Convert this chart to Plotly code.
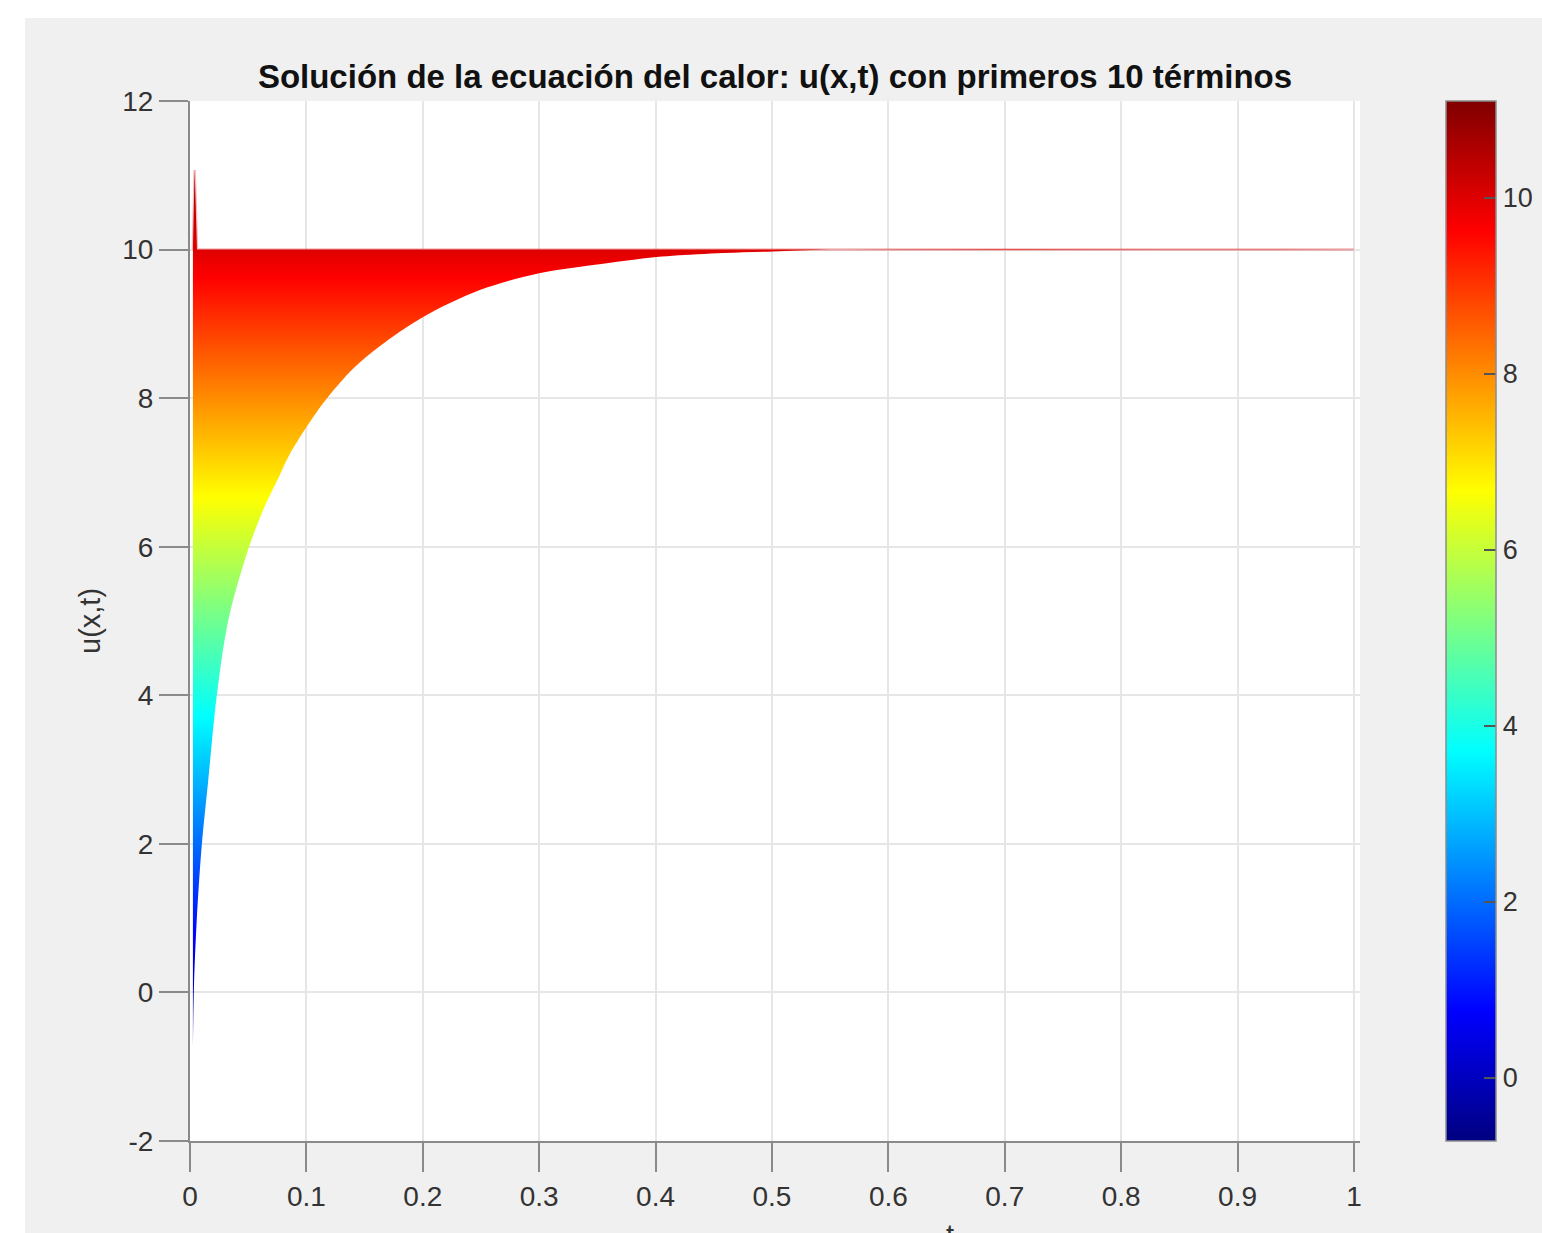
import plotly.graph_objects as go

# Lower envelope of u(x,t) over x (minimum at each time t)
t_low = [0.0025, 0.0034, 0.0058, 0.0100, 0.0157, 0.0229, 0.0329, 0.0487, 0.0630,
         0.0773, 0.0859, 0.1143, 0.1403, 0.163, 0.200, 0.249, 0.300, 0.358,
         0.401, 0.458, 0.501, 0.550, 1.0]
u_low = [-0.73, 0.08, 0.98, 1.96, 2.86, 3.98, 5.01, 5.90, 6.50,
         6.97, 7.25, 7.93, 8.40, 8.70, 9.09, 9.455, 9.68, 9.815,
         9.90, 9.953, 9.975, 10.0, 10.0]

# Upper envelope (maximum over x): Gibbs overshoot at the start, then the boundary value 10
t_up = [0.0025, 0.0040, 0.0060, 1.0]
u_up = [10.0, 11.07, 10.0, 10.0]

# Colour limits of the surface
c_min, c_max = -0.72, 11.10
cbar_ticks = [0, 2, 4, 6, 8, 10]

x_ticks = [0, 0.1, 0.2, 0.3, 0.4, 0.5, 0.6, 0.7, 0.8, 0.9, 1]
x_ticktext = ["0", "0.1", "0.2", "0.3", "0.4", "0.5", "0.6", "0.7", "0.8", "0.9", "1"]
y_ticks = [-2, 0, 2, 4, 6, 8, 10, 12]

jet = [[0.0, "rgb(0,0,128)"], [0.125, "rgb(0,0,255)"], [0.375, "rgb(0,255,255)"],
       [0.625, "rgb(255,255,0)"], [0.875, "rgb(255,0,0)"], [1.0, "rgb(128,0,0)"]]

FONT = "Liberation Sans, Arial, Helvetica, sans-serif"
W, H = 1542, 1233
L, R, T, B = 190, 182, 101, 92
PW, PH = W - L - R, H - T - B

fig = go.Figure()

fig.add_trace(go.Scatter(
    x=t_up, y=u_up, mode="lines",
    line=dict(color="rgba(225,0,0,0.28)", width=2.5),
    hoverinfo="skip", showlegend=False,
))
fig.add_trace(go.Scatter(
    x=t_low, y=u_low, mode="lines",
    line=dict(color="rgba(0,0,0,0)", width=0, shape="spline", smoothing=0.9),
    fill="tonexty",
    fillgradient=dict(type="vertical", colorscale=jet, start=c_min, stop=c_max),
    hoverinfo="skip", showlegend=False,
))

# colour bar carrier
fig.add_trace(go.Scatter(
    x=[0.5], y=[50], mode="markers",
    marker=dict(
        color=[c_min], colorscale=jet, cmin=c_min, cmax=c_max, showscale=True, size=1,
        colorbar=dict(
            xref="container", x=1446 / W, xanchor="left", xpad=0,
            yref="paper", y=0.5, yanchor="middle", ypad=0,
            len=1.0, lenmode="fraction", thickness=50, thicknessmode="pixels",
            outlinecolor="#8c8c8c", outlinewidth=1.5,
            ticks="inside", ticklen=12, tickwidth=2, tickcolor="#555555",
            tickvals=cbar_ticks, ticktext=[str(v) for v in cbar_ticks],
            tickfont=dict(family=FONT, size=27, color="#333333"),
        ),
    ),
    hoverinfo="skip", showlegend=False,
))

fig.update_xaxes(
    range=[0, 1.0052], tickvals=x_ticks, ticktext=x_ticktext,
    showgrid=True, gridcolor="#e6e6e6", gridwidth=2,
    zeroline=False, showline=True, linecolor="#8a8a8a", linewidth=2,
    ticks="outside", ticklen=29, tickwidth=2, tickcolor="#8a8a8a",
    tickfont=dict(family=FONT, size=28, color="#333333"),
)
fig.update_yaxes(
    range=[-2, 12], tickvals=y_ticks,
    ticktext=[str(v) if v >= 0 else "-" + str(-v) for v in y_ticks],
    showgrid=True, gridcolor="#e6e6e6", gridwidth=2,
    zeroline=False, showline=True, linecolor="#8a8a8a", linewidth=2,
    ticks="outside", ticklen=29, tickwidth=2, tickcolor="#8a8a8a",
    tickfont=dict(family=FONT, size=28, color="#333333"),
)

def px_x(px):
    return (px - L) / PW

def px_y(py):
    return (H - B - py) / PH

fig.update_layout(
    width=W, height=H,
    margin=dict(l=L, r=R, t=T, b=B, autoexpand=False),
    paper_bgcolor="#f0f0f0", plot_bgcolor="white",
    title=dict(
        text="<b>Solución de la ecuación del calor: u(x,t) con primeros 10 términos</b>",
        x=0.5, xref="paper", xanchor="center",
        y=1 - 76 / H, yref="container", yanchor="middle",
        font=dict(family=FONT, size=33, color="#111111"),
    ),
    annotations=[
        dict(text="u(x,t)", textangle=-90, xref="paper", yref="paper",
             x=px_x(90), y=px_y(621), xanchor="center", yanchor="middle",
             showarrow=False, font=dict(family=FONT, size=29, color="#333333")),
        dict(text="t", xref="paper", yref="paper",
             x=px_x(950), y=px_y(1235), xanchor="center", yanchor="middle",
             showarrow=False, font=dict(family=FONT, size=29, color="#333333")),
    ],
    shapes=[
        # white page margin above and left of the grey figure area
        dict(type="rect", xref="paper", yref="paper", x0=px_x(0), x1=px_x(W),
             y0=px_y(18), y1=px_y(0), fillcolor="white", line=dict(width=0)),
        dict(type="rect", xref="paper", yref="paper", x0=px_x(0), x1=px_x(25),
             y0=px_y(H), y1=px_y(0), fillcolor="white", line=dict(width=0)),
    ],
)

fig.write_html("out.html")
